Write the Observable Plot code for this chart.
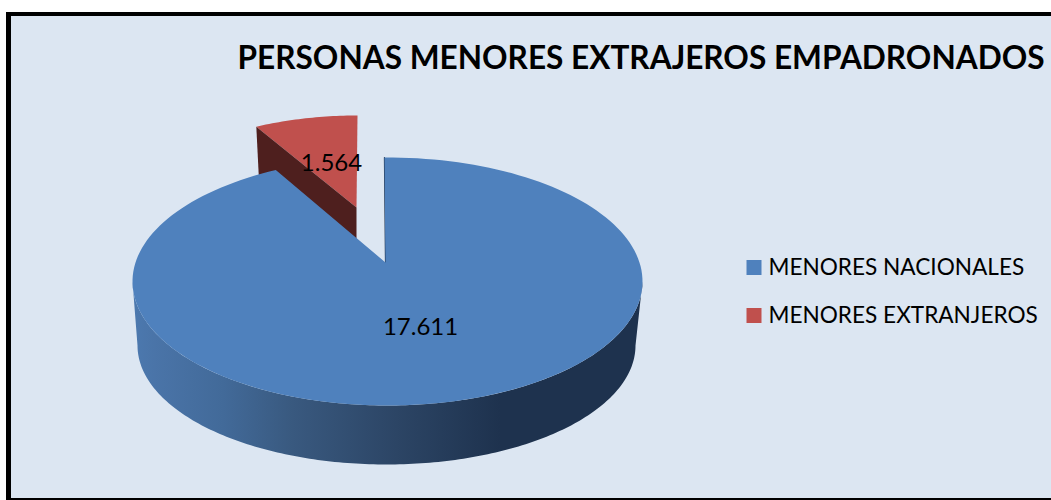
<!DOCTYPE html>
<html>
<head>
<meta charset="utf-8">
<script src="https://cdn.jsdelivr.net/npm/d3@7"></script>
<script src="https://cdn.jsdelivr.net/npm/@observablehq/plot@0.6"></script>
<style>
  html, body { margin: 0; padding: 0; background: #fff; overflow: hidden; width: 1051px; height: 500px; }
  #panel { position: absolute; left: 6px; top: 12px; width: 1100px; height: 482px; box-sizing: content-box;
           border-left: 5px solid #000; border-top: 4px solid #000; border-bottom: 2px solid #000; background: #dce6f2; }
  #chart { position: absolute; left: 0; top: 0; width: 1051px; height: 500px; overflow: hidden; }
  #chart svg { background: transparent; display: block; }
</style>
</head>
<body>
<div id="panel"></div>
<div id="chart"></div>
<script>
const titleText = "PERSONAS MENORES EXTRAJEROS EMPADRONADOS";
const categories = ["MENORES NACIONALES", "MENORES EXTRANJEROS"];
const values = [17611, 1564];
const valueLabels = ["17.611", "1.564"];
const colors = ["#4f81bd", "#c0504d"];
const sideColors = ["url(#blueWall)", "#4e1f1e"];

// Layout of the tilted pie (screen units of the identity x/y scales)
const FONT = "Lato, Carlito, 'Open Sans', sans-serif";
const K = 0.866;                 // perspective foreshortening of the sweep
const pieBlue = {cx: 387, cy: 281, rx: 255, ry: 124, ax: 385, ay: 262};
const pieRed  = {cx: 357, cy: 226, rx: 231, ry: 111, ax: 356, ay: 207};
const wallBottom = {cx: 386, cy: 345, rx: 249, ry: 119};

const total = d3.sum(values);
const sweep = 2 * Math.PI * values[1] / total;      // sweep of the small slice
const view = t => Math.atan2(Math.sin(t) * K, Math.cos(t));
const phi = view(sweep);                            // notch half seen on screen
const onEllipse = (e, a) => ({x: e.cx + e.rx * Math.sin(a), y: e.cy - e.ry * Math.cos(a)});
const arc = (e, a0, a1, n = 180) => d3.range(n + 1).map(i => onEllipse(e, a0 + (a1 - a0) * i / n));

// Large slice: clockwise from just left of 12 o'clock round to the notch
const start = -0.012;
const bluePts = [{x: pieBlue.ax, y: pieBlue.ay}, ...arc(pieBlue, start, 2 * Math.PI - phi)]
  .map(p => ({...p, name: categories[0]}));
// Small slice: pulled out of the notch
const redPts = [{x: pieRed.ax, y: pieRed.ay}, ...arc(pieRed, -phi, 0, 30)]
  .map(p => ({...p, name: categories[1]}));

// Walls
const blueWallPts = [...arc(pieBlue, Math.PI / 2, 3 * Math.PI / 2), ...arc(wallBottom, 3 * Math.PI / 2, Math.PI / 2)];
const tipRed = onEllipse(pieRed, -phi);
const redWallPts = [tipRed, {x: pieRed.ax, y: pieRed.ay}, {x: pieRed.ax, y: pieRed.ay + 60}, {x: tipRed.x + 3, y: tipRed.y + 60}];
const innerEdge = [onEllipse(pieBlue, start), {x: pieBlue.ax, y: pieBlue.ay}];

const wallStops = [[132, "#4c79af"], [154, "#4a74a8"], [223, "#426a99"], [292, "#39597f"], [396, "#2c4565"], [500, "#1e324e"], [642, "#1e324e"]];

const legendRows = categories.map((c, i) => ({name: c, row: i}));
const valueRows = categories.map((c, i) => ({label: valueLabels[i], x: [420, 331][i], y: [327, 163][i]}));

const defs = () => {
  const g = d3.create("svg:defs");
  const lg = g.append("linearGradient").attr("id", "blueWall").attr("gradientUnits", "userSpaceOnUse")
    .attr("x1", 132).attr("x2", 642).attr("y1", 0).attr("y2", 0);
  for (const [x, c] of wallStops) lg.append("stop").attr("offset", (x - 132) / 510).attr("stop-color", c);
  return g.node();
};

const plot = Plot.plot({
  width: 1051, height: 500,
  margin: 0,
  x: {type: "identity", axis: null},
  y: {type: "identity", axis: null},
  color: {domain: categories, range: colors},
  style: {background: "transparent", overflow: "hidden"},
  marks: [
    defs,
    // small slice (behind the large one)
    Plot.line(redPts, {x: "x", y: "y", fill: "name", stroke: "none", curve: "linear"}),
    Plot.line(redWallPts, {x: "x", y: "y", fill: sideColors[1], stroke: "none"}),
    // large slice
    Plot.line(blueWallPts, {x: "x", y: "y", fill: sideColors[0], stroke: "none"}),
    Plot.line(innerEdge, {x: "x", y: "y", stroke: "#1e324e", strokeWidth: 1.2}),
    Plot.line(bluePts, {x: "x", y: "y", fill: "name", stroke: "none"}),
    // value labels
    Plot.text(valueRows, {x: "x", y: "y", text: "label", fontSize: 24, fill: "#000", fontFamily: FONT, textAnchor: "middle"}),
    // title
    Plot.text([titleText], {x: 237, y: 58, text: d => d, textAnchor: "start", fontSize: 31.6, fontWeight: "bold", fontFamily: FONT, fill: "#000"}),
    // legend
    Plot.dot(legendRows, {x: 753.5, y: d => 267 + d.row * 48, symbol: "square", r: 8.46, fill: "name", stroke: "none"}),
    Plot.text(legendRows, {x: 768, y: d => 267 + d.row * 48, text: "name", textAnchor: "start", fontSize: 22.6, fontFamily: FONT, fill: "#000"})
  ]
});
document.getElementById("chart").appendChild(plot);
</script>
</body>
</html>
